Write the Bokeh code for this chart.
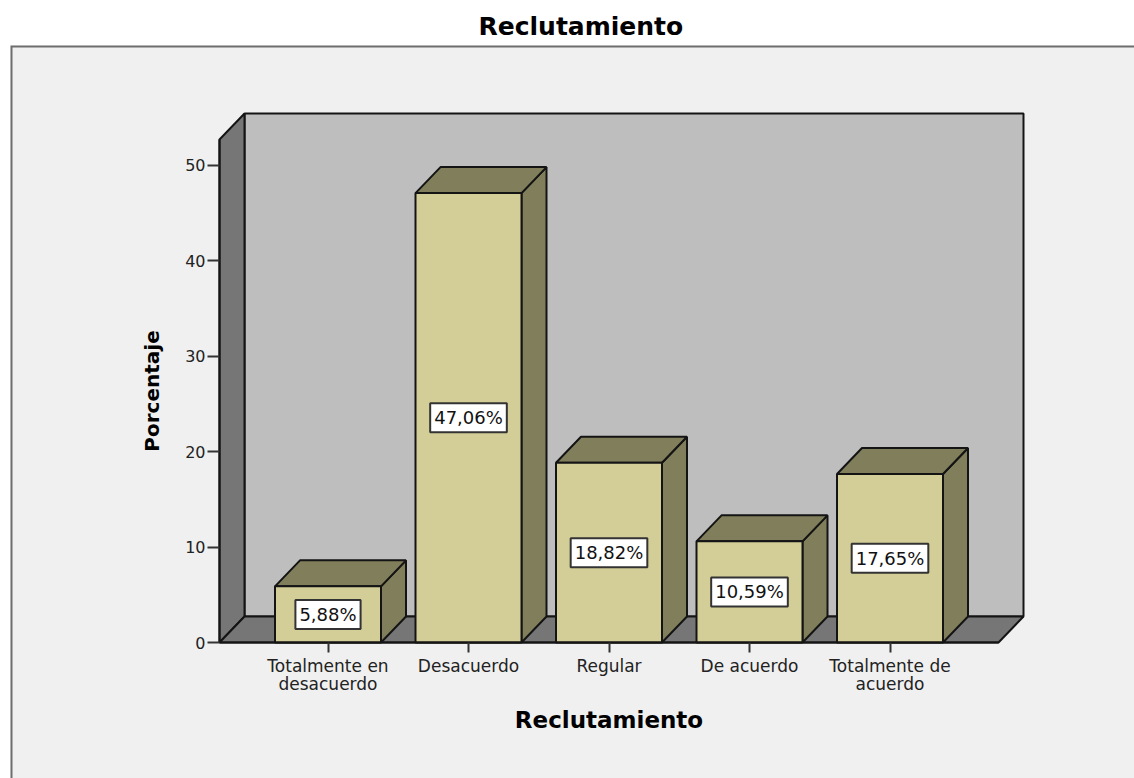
from bokeh.plotting import figure
from bokeh.embed import file_html
from bokeh.resources import INLINE
from bokeh.core.properties import value
from bokeh.models import Range1d, FixedTicker, ColumnDataSource

categories = ["Totalmente en\ndesacuerdo", "Desacuerdo", "Regular", "De acuerdo", "Totalmente de\nacuerdo"]
values = [5.88, 47.06, 18.82, 10.59, 17.65]
labels = ["5,88%", "47,06%", "18,82%", "10,59%", "17,65%"]
y_ticks = [0, 10, 20, 30, 40, 50]

FONT = "DejaVu Sans"
WALL, SIDE, EDGE = "#bebebe", "#767676", "#141414"
BAR, BAR_DARK = "#d3ce97", "#817f5b"

# pixel geometry of the frame
PX_UNIT_X, PX_UNIT_Y = 140.5, 9.55
X1_PX, Y0_PX = 327.5, 642.0
L, R, T, B = 10, 1134, 45, 778
x_start = 1 + (L - X1_PX) / PX_UNIT_X
x_end = 1 + (R - X1_PX) / PX_UNIT_X
y_start = -(B - Y0_PX) / PX_UNIT_Y
y_end = (Y0_PX - T) / PX_UNIT_Y

DX, DY = 25 / PX_UNIT_X, 26 / PX_UNIT_Y
HALF = 53 / PX_UNIT_X
X_LEFT = 1 + (219 - X1_PX) / PX_UNIT_X
X_RIGHT = 1 + (998 - X1_PX) / PX_UNIT_X
Y_TOP = (Y0_PX - 139) / PX_UNIT_Y

p = figure(width=R, height=B, output_backend="svg", toolbar_location=None,
           x_range=Range1d(x_start, x_end), y_range=Range1d(y_start, y_end),
           min_border_left=L, min_border_right=0, min_border_top=T, min_border_bottom=0,
           background_fill_color="#f0f0f0", border_fill_color="#ffffff",
           outline_line_color=None, title="Reclutamiento")
p.grid.visible = False
p.title.align = "left"
p.title.offset = 468
p.title.text_font = FONT
p.title.text_font_size = "25px"
p.title.text_font_style = "bold"
p.title.text_color = "#000000"
p.title.standoff = 9

# panel border (left and top)
p.line([x_start, x_start, x_end], [y_start, y_end, y_end], line_color="#6e6e6e", line_width=4)

# 3D box: wall, left side, floor
kw = dict(line_color=EDGE, line_width=2)
p.patch([X_LEFT + DX, X_RIGHT + DX, X_RIGHT + DX, X_LEFT + DX],
        [DY, DY, Y_TOP + DY, Y_TOP + DY], fill_color=WALL, **kw)
p.patch([X_LEFT, X_LEFT + DX, X_LEFT + DX, X_LEFT],
        [0, DY, Y_TOP + DY, Y_TOP], fill_color=SIDE, **kw)
p.patch([X_LEFT, X_RIGHT, X_RIGHT + DX, X_LEFT + DX],
        [0, 0, DY, DY], fill_color=SIDE, **kw)

# bars
xs = list(range(1, len(values) + 1))
for x, v in zip(xs, values):
    p.patch([x + HALF, x + HALF + DX, x + HALF + DX, x + HALF],
            [0, DY, v + DY, v], fill_color=BAR_DARK, **kw)
    p.patch([x - HALF, x + HALF, x + HALF + DX, x - HALF + DX],
            [v, v, v + DY, v + DY], fill_color=BAR_DARK, **kw)
p.vbar(x=xs, top=values, bottom=0, width=2 * HALF, fill_color=BAR, **kw)

# value labels
src = ColumnDataSource(dict(x=xs, y=[v / 2 for v in values], t=labels))
p.text(x="x", y="y", text="t", source=src, text_align="center", text_baseline="middle",
       text_font=value(FONT), text_font_size="18px", text_color="#111111",
       background_fill_color="#ffffff", border_line_color="#333333", border_line_width=2,
       padding=4)

# axes placed inside the frame
p.xaxis.fixed_location = 0
p.yaxis.fixed_location = X_LEFT
p.xaxis.bounds = (X_LEFT, X_RIGHT)
p.yaxis.bounds = (0, Y_TOP)
p.xaxis.ticker = FixedTicker(ticks=xs)
p.xaxis.major_label_overrides = {i + 1: c for i, c in enumerate(categories)}
p.yaxis.ticker = FixedTicker(ticks=y_ticks)
for ax in (p.xaxis[0], p.yaxis[0]):
    ax.axis_line_color = EDGE
    ax.axis_line_width = 2
    ax.major_tick_line_color = "#333333"
    ax.major_tick_line_width = 2
    ax.major_tick_in = 0
    ax.minor_tick_line_color = None
    ax.major_label_text_font = FONT
    ax.major_label_text_font_size = "16px"
    ax.major_label_text_color = "#222222"
    ax.axis_label_text_font = FONT
    ax.axis_label_text_font_size = "23px"
    ax.axis_label_text_font_style = "bold"
    ax.axis_label_text_color = "#000000"
p.xaxis.major_label_text_font_size = "17px"
p.xaxis.major_label_text_line_height = 0.9
p.yaxis.axis_label_text_font_size = "20px"
p.xaxis.major_tick_out = 10
p.yaxis.major_tick_out = 12
p.xaxis.major_label_standoff = 3
p.yaxis.major_label_standoff = 2
p.xaxis.axis_label = "Reclutamiento"
p.xaxis.axis_label_standoff = 10
p.yaxis.axis_label = "Porcentaje"
p.yaxis.axis_label_standoff = 18

open("out.html", "w").write(file_html(p, INLINE))
